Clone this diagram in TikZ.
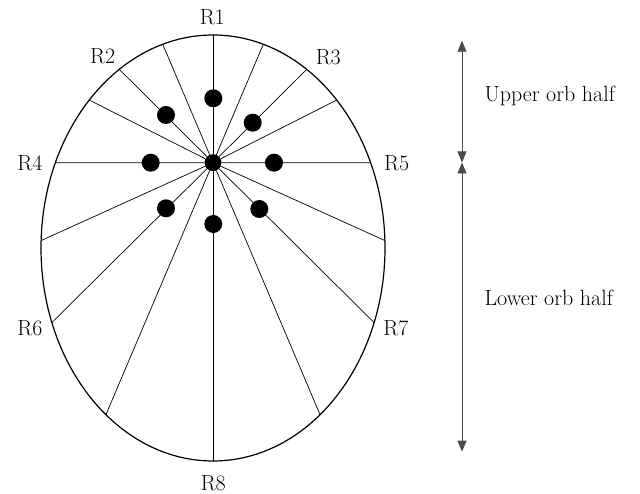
\documentclass[tikz,border=0pt]{standalone}
\usepackage{tikz}
\usetikzlibrary{arrows.meta,positioning,calc}

\begin{document}
\begin{tikzpicture}[x=1pt,y=1pt,
    spoke/.style={line width=0.7pt},
    blob/.style={circle,fill=black,inner sep=0pt,minimum size=18pt},
    rlabel/.style={font=\fontsize{22}{26}\selectfont},
    halfspan/.style={{Triangle[length=11pt,width=9pt]}-{Triangle[length=11pt,width=9pt]},
      draw=black!70,line width=0.8pt}]
  \useasboundingbox (0,0) rectangle (640,494);

  % Orb outline
  \coordinate (ctr) at (213,246);
  \draw[line width=1.2pt] (ctr) ellipse [x radius=172, y radius=213];

  % Hub and spokes
  \node[blob,minimum size=17pt] (hub) at (213,331.3) {};
  \foreach \t [count=\i] in {90,73,57,44,23.6,2,-20.5,-51.5,-90,
      107,123,136,156.4,178,200.5,231.5}
    \coordinate (e\i) at ($(ctr)+(\t:172 and 213)$);
  \foreach \i in {1,...,16}
    \draw[spoke] (hub) -- (e\i);

  % Dots round the hub
  \node[blob] (d1) at (213.3,395.7) {};
  \node[blob] (d2) at (166,379) {};
  \node[blob] (d3) at (252.7,371.3) {};
  \node[blob] (d4) at (150.7,331.3) {};
  \node[blob] (d5) at (274,331.3) {};
  \node[blob] (d6) at (166,285.7) {};
  \node[blob] (d7) at (259.3,285) {};
  \node[blob] (d8) at (213.3,270) {};

  % Region labels
  \node[rlabel] (r1) at (212.3,477.3) {R1};
  \node[rlabel] (r2) at (102.7,438) {R2};
  \node[rlabel] (r3) at (328.3,437.3) {R3};
  \node[rlabel] (r4) at (30,331.3) {R4};
  \node[rlabel] (r5) at (396.7,331.3) {R5};
  \node[rlabel] (r6) at (30,165.7) {R6};
  \node[rlabel] (r7) at (396,165.7) {R7};
  \node[rlabel] (r8) at (213.3,11.3) {R8};

  % Halves
  \coordinate (top) at (462,453.3);
  \coordinate (mid) at (462,331.5);
  \coordinate (bot) at (462,42.3);
  \draw[halfspan] (top) -- (mid);
  \draw[halfspan] (mid) -- (bot);
  \node[rlabel,anchor=base west] (up) at (481,392) {Upper orb half};
  \node[rlabel,anchor=base west] (lo) at (481,188) {Lower orb half};
\end{tikzpicture}
\end{document}
